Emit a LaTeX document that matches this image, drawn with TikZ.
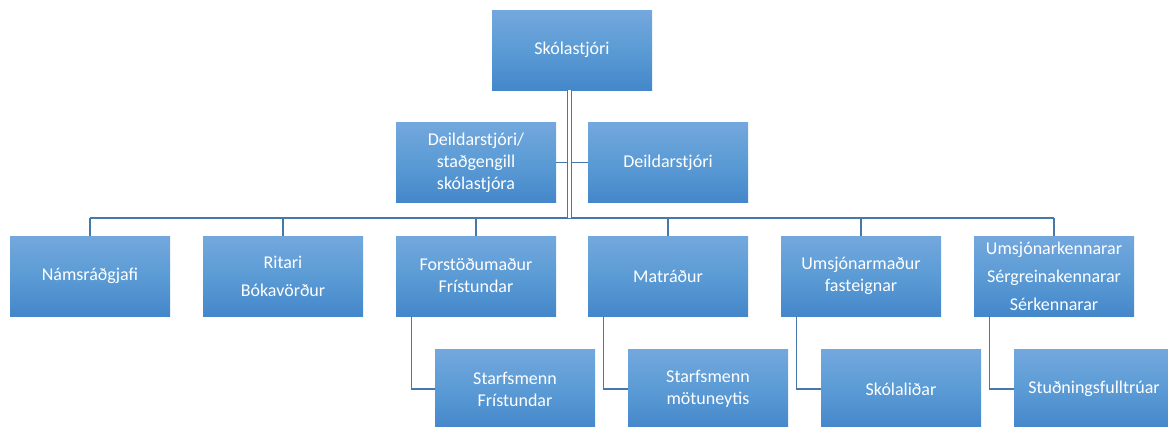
\documentclass[tikz,border=0pt]{standalone}
\usepackage{fontspec}
\setmainfont{Carlito}
\definecolor{boxtop}{RGB}{115,168,221}
\definecolor{boxmid}{RGB}{91,155,213}
\definecolor{boxbot}{RGB}{68,135,202}
\definecolor{linec}{RGB}{70,120,170}
\tikzset{
  orgbox/.style={minimum width=160pt, minimum height=80pt, inner sep=2pt,
    top color=boxtop, bottom color=boxbot, middle color=boxmid,
    text=white, align=center, font=\fontsize{18}{22}\selectfont},
  wide/.style={font=\fontsize{18}{28}\selectfont},
  conn/.style={draw=linec, line width=1.3pt},
  dconn/.style={draw=linec, line width=1.4pt, double=white, double distance=2.6pt}
}
\begin{document}
\begin{tikzpicture}[x=1pt,y=-1pt]
\useasboundingbox (0,0) rectangle (1168,426);
\node[orgbox] (sk) at (572,50) {Skólastjóri};
\node[orgbox] (d1) at (476,162.5) {Deildarstjóri/\\staðgengill\\skólastjóra};
\node[orgbox] (d2) at (668,162.5) {Deildarstjóri};
\node[orgbox] (ns) at (90,276) {Námsráðgjafi};
\node[orgbox,wide] (ri) at (283,276) {Ritari\\Bókavörður};
\node[orgbox] (fo) at (476,276) {Forstöðumaður\\Frístundar};
\node[orgbox] (ma) at (668,276) {Matráður};
\node[orgbox] (um) at (861,276) {Umsjónarmaður\\fasteignar};
\node[orgbox,wide] (uk) at (1054,276) {Umsjónarkennarar\\Sérgreinakennarar\\Sérkennarar};
\node[orgbox] (sf) at (515,389) {Starfsmenn\\Frístundar};
\node[orgbox] (sm) at (708,389) {Starfsmenn\\mötuneytis};
\node[orgbox] (sl) at (901,389) {Skólaliðar};
\node[orgbox] (st) at (1094,389) {Stuðningsfulltrúar};
\coordinate (bus) at (569.5,218);
\coordinate (top) at (569.5,90);
% bus
\draw[conn] (ns.north |- bus) -- (uk.north |- bus);
\foreach \n in {ns,ri,fo,ma,um,uk} \draw[conn] (\n.north) -- (\n.north |- bus);
\draw[conn] (d1.east) -- (top |- d1.east);
\draw[conn] (d2.west) -- (top |- d2.west);
\draw[dconn] (top) -- (bus);
% lower connectors
\draw[conn] ([xshift=16pt]fo.south west) |- (sf.west);
\draw[conn] ([xshift=16pt]ma.south west) |- (sm.west);
\draw[conn] ([xshift=16pt]um.south west) |- (sl.west);
\draw[conn] ([xshift=16pt]uk.south west) |- (st.west);
\end{tikzpicture}
\end{document}
